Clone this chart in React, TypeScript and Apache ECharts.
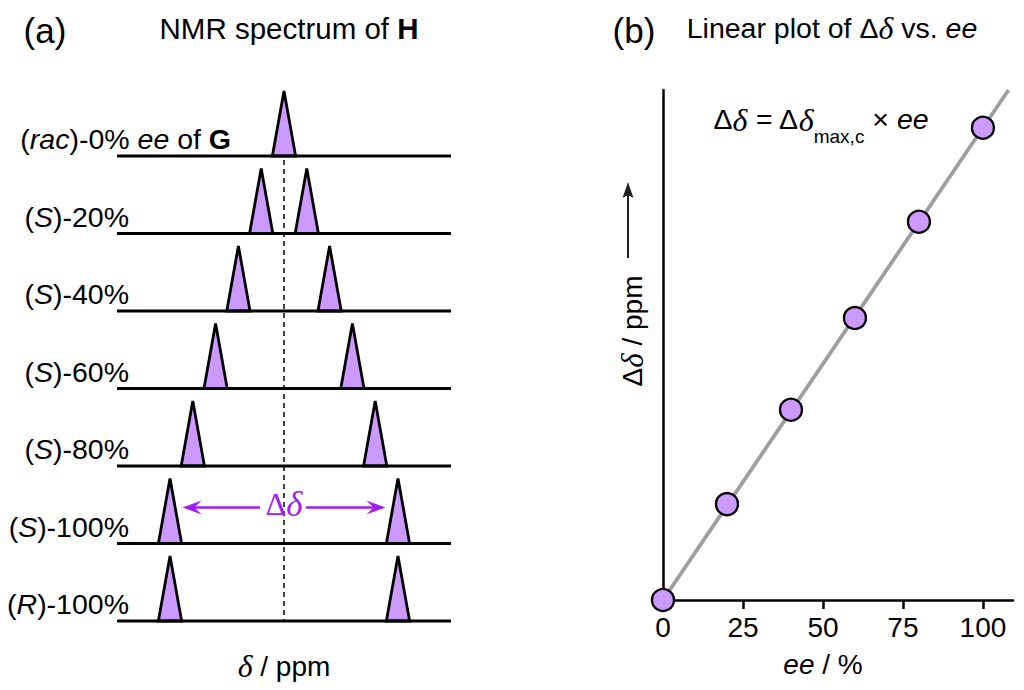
import React, { useEffect, useRef } from 'react';
import * as echarts from 'echarts';

// ---------- data ----------
// Panel (a): stacked NMR traces (peak offsets in units of Δδ(max) = 1)
const rowLabels = ['(rac)-0% ee of G', '(S)-20%', '(S)-40%', '(S)-60%', '(S)-80%', '(S)-100%', '(R)-100%'];
const rowEe = [0, 20, 40, 60, 80, 100, 100];
const peakLeft = [0, -0.1, -0.2, -0.3, -0.4, -0.5, -0.5];
const peakRight = [0, 0.1, 0.2, 0.3, 0.4, 0.5, 0.5];
const centerLine = [[0, 0.05], [0, 6.09]];
const annotatedRow = 5;

// Panel (b): Δδ vs ee
const eeValues = [0, 20, 40, 60, 80, 100];
const deltaValues = [0, 20.3, 40.3, 59.7, 80.1, 100];
const fitLine = [[0, 0], [108, 108]];
const xTicks = [0, 25, 50, 75, 100];

// ---------- styles ----------
const SANS = '"Liberation Sans", Arial, Helvetica, sans-serif';
const SERIF = '"Liberation Serif", "Times New Roman", serif';
const PEAK_FILL = '#cc99ff';
const PURPLE = '#a020f0';
const X_MIN = -0.7325;
const X_MAX = 0.7325;
const PEAK_HW = 0.051;
const PEAK_H = 0.84;
const LABEL_FS = 28.5;

function formatLabel(s: string): string {
  let t = s.replace(/\((rac|S|R)\)/, '({i|$1})');
  t = t.replace(' ee ', ' {i|ee} ');
  t = t.replace(/ G$/, ' {b|G}');
  return t;
}

const labelRich = {
  i: { fontStyle: 'italic', fontSize: LABEL_FS, fontFamily: SANS, fill: '#000' },
  b: { fontWeight: 'bold', fontSize: LABEL_FS, fontFamily: SANS, fill: '#000' },
};

export default function App() {
  const ref = useRef<HTMLDivElement>(null);
  useEffect(() => {
    if (!ref.current) return;
    const chart = echarts.init(ref.current, undefined, { renderer: 'svg' });

    const spectraData = rowEe.map((_, i) => [i, peakLeft[i], peakRight[i]]);

    const option: any = {
      animation: false,
      backgroundColor: '#fff',
      grid: [
        { left: 117, top: 78.5, width: 334, height: 542.5 },
        { left: 663, top: 90, width: 350, height: 510 },
      ],
      xAxis: [
        {
          gridIndex: 0, type: 'value', min: X_MIN, max: X_MAX,
          axisLine: { show: false }, axisTick: { show: false }, axisLabel: { show: false }, splitLine: { show: false },
          name: '{d|δ} / ppm', nameLocation: 'middle', nameGap: 29,
          nameTextStyle: {
            fontSize: 28, fontFamily: SANS, color: '#000',
            rich: { d: { fontSize: 32, fontFamily: SERIF, fontStyle: 'italic', color: '#000' } },
          },
        },
        {
          gridIndex: 1, type: 'value', min: 0, max: 109.4,
          axisLine: { show: true, lineStyle: { color: '#000', width: 2.5 } },
          axisTick: { show: true, customValues: xTicks, length: 9, lineStyle: { color: '#000', width: 2.5 } },
          axisLabel: { show: true, customValues: xTicks, fontSize: 28, fontFamily: SANS, color: '#000', margin: 13 },
          splitLine: { show: false },
          name: '{i|ee} / %', nameLocation: 'middle', nameGap: 50,
          nameTextStyle: {
            fontSize: 28, fontFamily: SANS, color: '#000', padding: [0, 30, 0, 0],
            rich: { i: { fontSize: 28, fontFamily: SANS, fontStyle: 'italic', color: '#000' } },
          },
        },
      ],
      yAxis: [
        {
          gridIndex: 0, type: 'value', min: -1, max: 6, inverse: true,
          axisLine: { show: false }, axisTick: { show: false }, axisLabel: { show: false }, splitLine: { show: false },
        },
        {
          gridIndex: 1, type: 'value', min: 0, max: 108,
          axisLine: { show: true, lineStyle: { color: '#000', width: 2.5 } },
          axisTick: { show: false }, axisLabel: { show: false }, splitLine: { show: false },
        },
      ],
      series: [
        {
          type: 'line', xAxisIndex: 0, yAxisIndex: 0, data: centerLine, symbol: 'none', silent: true,
          lineStyle: { color: '#111', width: 1.6, type: [5, 4] }, z: 1,
        },
        {
          type: 'custom', xAxisIndex: 0, yAxisIndex: 0, data: spectraData, clip: false, silent: true, z: 3,
          renderItem: (params: any, api: any) => {
            const row = api.value(0) as number;
            const pL = api.value(1) as number;
            const pR = api.value(2) as number;
            const [x0, yb] = api.coord([X_MIN, row]);
            const [x1] = api.coord([X_MAX, row]);
            const children: any[] = [];
            const peaks = pL === pR ? [pL] : [pL, pR];
            for (const p of peaks) {
              const a = api.coord([p - PEAK_HW, row]);
              const b = api.coord([p, row - PEAK_H]);
              const c = api.coord([p + PEAK_HW, row]);
              children.push({
                type: 'polygon',
                shape: { points: [a, b, c] },
                style: { fill: PEAK_FILL, stroke: '#000', lineWidth: 2.8, lineJoin: 'miter', miterLimit: 10 },
              });
            }
            children.push({
              type: 'line',
              shape: { x1: x0, y1: yb, x2: x1, y2: yb },
              style: { stroke: '#000', lineWidth: 2.8 },
            });
            children.push({
              type: 'text',
              x: row === 0 ? x0 + 114 : x0 + 12,
              y: yb - 17,
              style: {
                text: formatLabel(rowLabels[params.dataIndex]),
                rich: labelRich,
                fontSize: LABEL_FS, fontFamily: SANS, fill: '#000',
                align: 'right', verticalAlign: 'middle',
              },
            });
            return { type: 'group', children };
          },
        },
        {
          type: 'custom', xAxisIndex: 0, yAxisIndex: 0,
          data: [[peakLeft[annotatedRow], peakRight[annotatedRow], annotatedRow]],
          clip: false, silent: true, z: 4,
          renderItem: (_params: any, api: any) => {
            const pL = api.value(0) as number;
            const pR = api.value(1) as number;
            const row = api.value(2) as number;
            const y = api.coord([0, row - 0.465])[1];
            const xl = api.coord([pL + 0.055, row])[0];
            const xr = api.coord([pR - 0.055, row])[0];
            const xc = api.coord([(pL + pR) / 2, row])[0];
            const st = { stroke: PURPLE, lineWidth: 2.4 };
            return {
              type: 'group',
              children: [
                { type: 'line', shape: { x1: xl + 8, y1: y, x2: xc - 24, y2: y }, style: st },
                { type: 'line', shape: { x1: xc + 22, y1: y, x2: xr - 8, y2: y }, style: st },
                {
                  type: 'polygon',
                  shape: { points: [[xl, y], [xl + 19, y - 7], [xl + 12, y], [xl + 19, y + 7]] },
                  style: { fill: PURPLE },
                },
                {
                  type: 'polygon',
                  shape: { points: [[xr, y], [xr - 19, y - 7], [xr - 12, y], [xr - 19, y + 7]] },
                  style: { fill: PURPLE },
                },
                {
                  type: 'text', x: xc, y: y - 3,
                  style: {
                    text: '{n|Δ}{d|δ}',
                    rich: {
                      n: { fontSize: 32, fontFamily: SERIF, fill: PURPLE },
                      d: { fontSize: 35, fontFamily: SERIF, fontStyle: 'italic', fill: PURPLE },
                    },
                    align: 'center', verticalAlign: 'middle',
                  },
                },
              ],
            };
          },
        },
        {
          type: 'line', xAxisIndex: 1, yAxisIndex: 1, data: fitLine, symbol: 'none', silent: true,
          lineStyle: { color: '#9e9e9e', width: 3.8 }, z: 2, clip: false,
        },
        {
          type: 'scatter', xAxisIndex: 1, yAxisIndex: 1,
          data: eeValues.map((e, i) => [e, deltaValues[i]]),
          symbol: 'circle', symbolSize: 22, clip: false, z: 5,
          itemStyle: { color: PEAK_FILL, borderColor: '#000', borderWidth: 2.3, opacity: 1 },
        },
      ],
      graphic: [
        {
          type: 'text', x: 45, y: 30,
          style: { text: '(a)', fontSize: 35, fontFamily: SANS, fill: '#000', align: 'center', verticalAlign: 'middle' },
        },
        {
          type: 'text', x: 289, y: 28,
          style: {
            text: 'NMR spectrum of {b|H}', fontSize: 29.5, fontFamily: SANS, fill: '#000',
            rich: { b: { fontSize: 29.5, fontFamily: SANS, fontWeight: 'bold', fill: '#000' } },
            align: 'center', verticalAlign: 'middle',
          },
        },
        {
          type: 'text', x: 634, y: 30,
          style: { text: '(b)', fontSize: 35, fontFamily: SANS, fill: '#000', align: 'center', verticalAlign: 'middle' },
        },
        {
          type: 'text', x: 832, y: 28,
          style: {
            text: 'Linear plot of Δ{d|δ} vs. {i|ee}', fontSize: 28.5, fontFamily: SANS, fill: '#000',
            rich: {
              d: { fontSize: 32, fontFamily: SERIF, fontStyle: 'italic', fill: '#000' },
              i: { fontSize: 28.5, fontFamily: SANS, fontStyle: 'italic', fill: '#000' },
            },
            align: 'center', verticalAlign: 'middle',
          },
        },
        {
          type: 'text', x: 821, y: 119,
          style: {
            text: '{n|Δ}{d|δ}{n| = Δ}{d|δ}{s|max,c}{n| × }{i|ee}',
            rich: {
              n: { fontSize: 28.5, fontFamily: SANS, fill: '#000', lineHeight: 30, verticalAlign: 'top' },
              d: { fontSize: 32, fontFamily: SERIF, fontStyle: 'italic', fill: '#000', lineHeight: 30, verticalAlign: 'top' },
              i: { fontSize: 28.5, fontFamily: SANS, fontStyle: 'italic', fill: '#000', lineHeight: 30, verticalAlign: 'top' },
              s: { fontSize: 19, fontFamily: SANS, fill: '#000', lineHeight: 20, verticalAlign: 'top', padding: [23, 0, 0, 0] },
            },
            align: 'center', verticalAlign: 'middle',
          },
        },
        {
          type: 'text', x: 632, y: 331, rotation: Math.PI / 2,
          style: {
            text: 'Δ{d|δ} / ppm', fontSize: 28, fontFamily: SANS, fill: '#000',
            rich: { d: { fontSize: 31, fontFamily: SERIF, fontStyle: 'italic', fill: '#000' } },
            align: 'center', verticalAlign: 'middle',
          },
        },
        {
          type: 'line', shape: { x1: 628, y1: 258, x2: 628, y2: 192 },
          style: { stroke: '#222', lineWidth: 2 },
        },
        {
          type: 'polygon', shape: { points: [[628, 182], [622.5, 198], [628, 195], [633.5, 198]] },
          style: { fill: '#222' },
        },
      ],
    };

    chart.setOption(option);
    return () => chart.dispose();
  }, []);

  return <div ref={ref} style={{ position: 'fixed', left: 0, top: 0, width: 1024, height: 690, background: '#fff' }} />;
}
